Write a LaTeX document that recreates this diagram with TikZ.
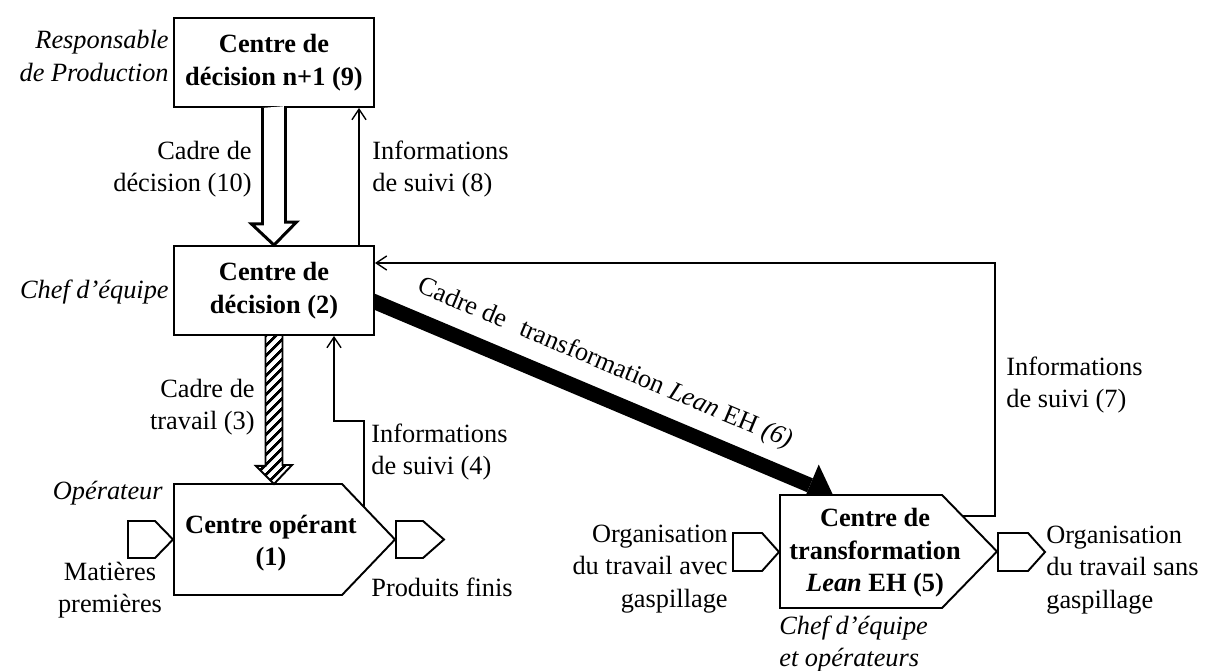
\documentclass[tikz,border=0pt]{standalone}
\usepackage{fontspec}
\setmainfont{Liberation Serif}
\usetikzlibrary{calc, arrows.meta, patterns.meta, backgrounds}

\begin{document}
\begin{tikzpicture}[x=0.02cm, y=-0.02cm, >={Straight Barb[length=6pt, width=8pt]},
  font=\fontsize{15}{18.5}\selectfont,
  box/.style={draw, line width=1.1pt, fill=white, minimum width=4cm, minimum height=1.78cm,
    align=center, font=\fontsize{15}{18.5}\selectfont\bfseries},
  penta/.style={draw, line width=1.1pt, fill=white, line join=miter},
  lbl/.style={inner sep=0pt},
  role/.style={inner sep=0pt, font=\fontsize{15}{18.5}\selectfont\itshape},
  info/.style={line width=0.8pt, ->}]
  \useasboundingbox (0,0) rectangle (1209,671);

  % decision centres
  \node (dec9) at (274,62.5) [box] {Centre de\\décision n+1 (9)};
  \node (dec2) at (274,290.5) [box] {Centre de\\décision (2)};

  % operating centre and its flows
  \draw [penta] (174,484) -- ++(168,0) -- ++(53,55.5) -- ++(-53,55.5) -- ++(-168,0) -- cycle;
  \draw [penta] (128,521) -- ++(27,0) -- ++(18,18.5) -- ++(-18,18.5) -- ++(-27,0) -- cycle;
  \draw [penta] (396,521) -- ++(27,0) -- ++(21,18.5) -- ++(-21,18.5) -- ++(-27,0) -- cycle;
  \node (op) at (271,543) [lbl, align=center, font=\fontsize{15}{18.5}\selectfont\bfseries] {Centre opérant\\(1)};
  \coordinate (op-top) at (274,484);
  \coordinate (op-out) at (364,507);

  % transformation centre and its flows
  \draw [penta] (780,495) -- ++(162,0) -- ++(55,56.5) -- ++(-55,56.5) -- ++(-162,0) -- cycle;
  \draw [penta] (733,533) -- ++(29,0) -- ++(17,19) -- ++(-17,19) -- ++(-29,0) -- cycle;
  \draw [penta] (998,533) -- ++(30,0) -- ++(17,19) -- ++(-17,19) -- ++(-30,0) -- cycle;
  \node (tr) at (875,553) [lbl, align=center, font=\fontsize{15}{18.5}\selectfont\bfseries]
    {Centre de\\transformation\\\textit{Lean} EH (5)};
  \coordinate (tr-top) at (833,495);
  \coordinate (tr-out) at (962.4,516);

  % frames
  \draw [line width=1.7pt, fill=white, line join=miter] ($(dec9.south)+(-11.5,0)$) -- ++(0,116) -- ++(-11,0)
    -- (dec2.north) -- ++(22.5,-23) -- ++(-11,0) -- ++(0,-116);
  \draw [line width=1.1pt, line join=miter, pattern={Lines[angle=45, distance=4pt, line width=1.6pt]}]
    ($(dec2.south)+(-8.5,0)$) -- ++(0,130) -- ++(-9.5,0) -- (op-top) -- ++(18,-19) -- ++(-9.5,0) -- ++(0,-130);
  \begin{scope}[on background layer]
    \draw [line width=0.3cm, -{Triangle[length=0.5cm, width=0.9cm, line width=0pt]}]
      ($(dec2.east)+(-10,7.2)$) -- (tr-top);
  \end{scope}

  % feedback
  \draw [info] ($(dec2.north)+(85,0)$) -- ($(dec9.south)+(85,0)$);
  \draw [info] (op-out) -- ++(0,-86) -| ($(dec2.south)+(60,0)$);
  \draw [info] (tr-out) -- ++(32.6,0) |- ($(dec2.east)+(0,-27.5)$);

  % labels
  \node (resp) at (169,56) [role, anchor=east, align=right] {Responsable\\de Production};
  \node (chef) at (169,292) [role, anchor=east] {Chef d’équipe};
  \node (oper) at (163,493) [role, anchor=east] {Opérateur};
  \node (team) at (779,644) [role, anchor=west, align=left] {Chef d’équipe\\et opérateurs};
  \node (lbl10) at (252,169) [lbl, anchor=east, align=right] {Cadre de\\décision (10)};
  \node (lbl8) at (372,169) [lbl, anchor=west, align=left] {Informations\\de suivi (8)};
  \node (lbl3) at (255,407) [lbl, anchor=east, align=right] {Cadre de\\travail (3)};
  \node (lbl4) at (371,452) [lbl, anchor=west, align=left] {Informations\\de suivi (4)};
  \node (lbl7) at (1006,385) [lbl, anchor=west, align=left] {Informations\\de suivi (7)};
  \node (lbl6) at (605,364) [lbl, rotate=-22.8] {Cadre de\hspace{0.6em}transformation \textit{Lean} EH \textit{(6)}};
  \node (mat) at (110,590) [lbl, align=center] {Matières\\premières};
  \node (prod) at (371,587) [lbl, anchor=west] {Produits finis};
  \node (orga) at (728,569) [lbl, anchor=east, align=right] {Organisation\\du travail avec\\gaspillage};
  \node (orgb) at (1046,570) [lbl, anchor=west, align=left] {Organisation\\du travail sans\\gaspillage};
\end{tikzpicture}
\end{document}
